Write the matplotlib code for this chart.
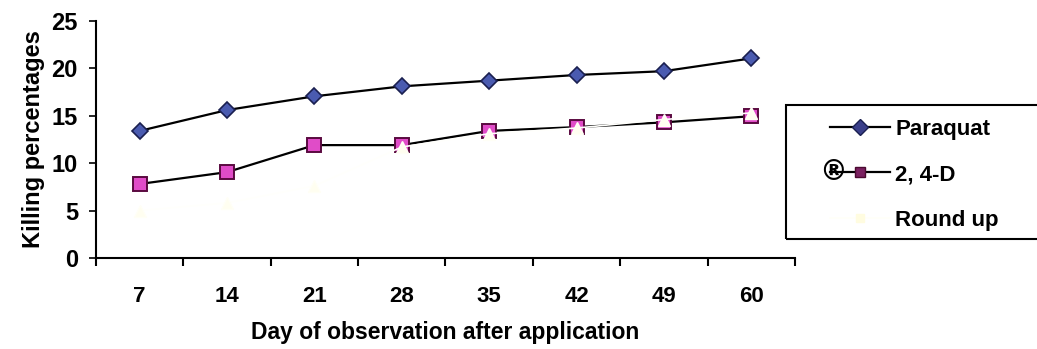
import matplotlib
matplotlib.use("Agg")
import matplotlib.pyplot as plt
import numpy as np
from matplotlib.lines import Line2D
from matplotlib.patches import Rectangle

days = ["7", "14", "21", "28", "35", "42", "49", "60"]
paraquat = [13.4, 15.6, 17.05, 18.1, 18.7, 19.3, 19.7, 21.05]
d24 = [7.8, 9.05, 11.9, 11.9, 13.4, 13.8, 14.3, 14.95]
roundup = [5.0, 5.8, 7.6, 11.7, 13.1, 13.7, 14.6, 15.3]

plt.rcParams["font.family"] = ["Liberation Sans", "DejaVu Sans"]
plt.rcParams["font.weight"] = "bold"

fig = plt.figure(figsize=(10.37, 3.49), dpi=100)
ax = fig.add_axes([0.0926, 0.261, 0.674, 0.679])

x = np.arange(len(days))
ax.plot(x, paraquat, color="black", lw=1.6, marker="D", ms=8,
        mfc="#4a5bb0", mec="#1a1f50", mew=1.2, label="Paraquat", zorder=3)
ax.plot(x, d24, color="black", lw=1.6, marker="s", ms=10,
        mfc="#e04cc8", mec="#5a0a40", mew=1.4, label="2, 4-D", zorder=3)
# round up is almost washed out in the scan
ax.plot(x, roundup, color="#fffffc", lw=1.2, marker="^", ms=8,
        mfc="#fffef0", mec="#fffff6", label="Round up", zorder=4)

ax.set_xlim(-0.5, 7.5)
ax.set_ylim(0, 25)
ax.set_yticks([0, 5, 10, 15, 20, 25])
ax.set_xticks(np.arange(-0.5, 8, 1))
ax.set_xticklabels([])
ax.set_xticks(x, minor=True)
ax.set_xticklabels(days, minor=True)
ax.tick_params(axis="x", which="major", direction="out", length=6, width=1.5)
ax.tick_params(axis="x", which="minor", length=0, pad=20, labelsize=16)
ax.tick_params(axis="y", direction="out", length=5, width=1.2, pad=8, labelsize=17)

for s in ["top", "right"]:
    ax.spines[s].set_visible(False)
ax.spines["left"].set_linewidth(1.5)
ax.spines["bottom"].set_linewidth(1.5)

ax.set_xlabel("Day of observation after application", fontsize=16.5,
              fontweight="bold", labelpad=10)
ax.set_ylabel("Killing percentages", fontsize=17, fontweight="bold", labelpad=5)

handles = [
    Line2D([], [], color="black", lw=1.6, marker="D", ms=8,
           mfc="#3a3f8a", mec="#1a1f50"),
    Line2D([], [], color="black", lw=1.6, marker="s", ms=7,
           mfc="#7a2060", mec="#4a0a30"),
    Line2D([], [], color="#fffff8", lw=1.2, marker="s", ms=6,
           mfc="#fffce0", mec="#fffce0"),
]
leg = fig.legend(handles, ["Paraquat", "2, 4-D", "Round up"],
                 loc="upper left", bbox_to_anchor=(0.80, 0.66),
                 frameon=False, prop={"size": 16, "weight": "bold"},
                 handlelength=2.7, labelspacing=1.1, borderpad=0,
                 handletextpad=0.25, borderaxespad=0)
fig.add_artist(Rectangle((786 / 1037, 1 - 239 / 349), 0.26, 134 / 349,
                         transform=fig.transFigure, fill=False,
                         edgecolor="black", lw=1.5))
fig.text(833 / 1037, 1 - 172 / 349, "®", fontsize=20, fontweight="bold",
         ha="center", va="center", family="DejaVu Sans")

fig.savefig("out.png", dpi=100, facecolor="white")
